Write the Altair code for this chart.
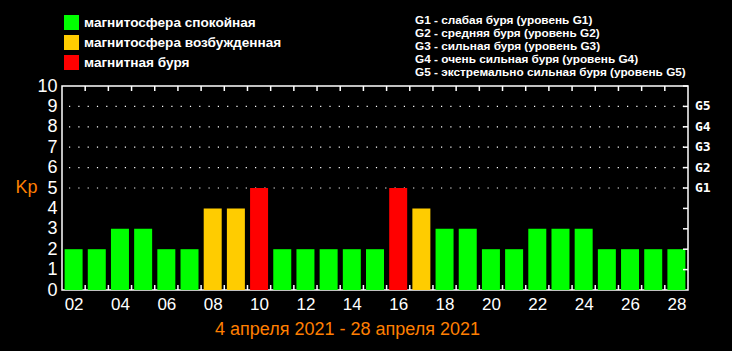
import altair as alt
import pandas as pd

days = list(range(2, 29))
kp = [2, 2, 3, 3, 2, 2, 4, 4, 5, 2, 2, 2, 2, 2, 5, 4, 3, 3, 2, 2, 3, 3, 3, 2, 2, 2, 2]
status_names = ["магнитосфера спокойная", "магнитосфера возбужденная", "магнитная буря"]
status_colors = ["#00ff00", "#ffcc00", "#ff0000"]
g_levels = [5, 6, 7, 8, 9]
g_labels = ["G1", "G2", "G3", "G4", "G5"]
g_descr = [
    "G1 - слабая буря (уровень G1)",
    "G2 - средняя буря (уровень G2)",
    "G3 - сильная буря (уровень G3)",
    "G4 - очень сильная буря (уровень G4)",
    "G5 - экстремально сильная буря (уровень G5)",
]
x_ticks = list(range(2, 29, 2))
y_ticks = list(range(0, 11))
date_title = "4 апреля 2021 - 28 апреля 2021"

W, H = 626, 204
ORANGE = "#ff7f00"


def status(v):
    if v <= 3:
        return status_names[0]
    if v == 4:
        return status_names[1]
    return status_names[2]


bars_df = pd.DataFrame({"day": days, "kp": kp, "status": [status(v) for v in kp]})
bound_df = pd.DataFrame({"day": [d + 0.5 for d in days[:-1]]})
level_df = pd.DataFrame({"kp": y_ticks[1:]})
g_df = pd.DataFrame({"kp": g_levels, "g": g_labels})

xscale = alt.Scale(domain=[days[0] - 0.5, days[-1] + 0.5], nice=False, zero=False, padding=0)
yscale = alt.Scale(domain=[0, 10], nice=False, padding=0)

x_axis = alt.Axis(
    values=x_ticks,
    labelExpr="datum.value < 10 ? '0' + datum.value : '' + datum.value",
    ticks=False, domain=False, grid=False, labelOverlap=False,
    labelColor="white", labelFontSize=17, labelFont="Liberation Sans", labelPadding=6,
    title=date_title, titleColor=ORANGE, titleFontSize=18, titleFont="Liberation Sans",
    titleFontWeight="normal", titleX=285, titleY=39, titleBaseline="middle", titleAlign="center",
)
y_axis = alt.Axis(
    values=y_ticks, ticks=False, domain=False, grid=False, labelOverlap=False,
    labelColor="white", labelFontSize=18, labelFont="Liberation Sans", labelPadding=5,
    title="Kp", titleAngle=0, titleColor=ORANGE, titleFontSize=18, titleFont="Liberation Sans",
    titleFontWeight="normal", titleX=-36, titleY=101, titleAlign="center", titleBaseline="middle",
)

X = alt.X("day:Q", scale=xscale, axis=x_axis)
Y = alt.Y("kp:Q", scale=yscale, axis=y_axis)

grid = alt.Chart(g_df).mark_rule(color="white", strokeWidth=1.2, strokeDash=[1.2, 8.1], strokeDashOffset=-7).encode(
    x=alt.value(0), x2=alt.value(W), y=Y
)

bars = alt.Chart(bars_df).mark_bar(width=18).encode(
    x=X,
    y=Y,
    color=alt.Color(
        "status:N",
        scale=alt.Scale(domain=status_names, range=status_colors),
        legend=alt.Legend(
            orient="none", legendX=2, legendY=-71, title=None,
            symbolType="square", symbolSize=225, symbolStrokeWidth=0, symbolOpacity=1,
            labelColor="white", labelFontSize=13.6, labelFont="Liberation Sans", labelFontWeight="bold",
            labelLimit=400, rowPadding=5, labelOffset=5, padding=0,
        ),
    ),
)

top_ticks = alt.Chart(bound_df).mark_rule(color="white", strokeWidth=1.5).encode(
    x=X, y=alt.value(0), y2=alt.value(5)
)
bottom_ticks = alt.Chart(bound_df).mark_rule(color="white", strokeWidth=1.5).encode(
    x=X, y=alt.value(H - 5), y2=alt.value(H)
)
right_ticks = alt.Chart(level_df).mark_rule(color="white", strokeWidth=1.5).encode(
    x=alt.value(W - 5), x2=alt.value(W), y=Y
)
g_text = alt.Chart(g_df).mark_text(
    color="white", font="DejaVu Sans Mono", fontWeight="bold", fontSize=13, align="left", baseline="middle"
).encode(x=alt.value(W + 7), y=Y, text="g:N")

descr = alt.Chart(pd.DataFrame({"n": [0]})).mark_text(
    text=g_descr, color="white", font="Liberation Sans", fontWeight="bold", fontSize=11.8,
    align="left", baseline="top", lineHeight=13,
).encode(x=alt.value(353), y=alt.value(-71))

chart = alt.layer(grid, bars, top_ticks, bottom_ticks, right_ticks, g_text, descr).properties(
    width=W, height=H, background="black",
    padding={"left": 62, "top": 86, "right": 44, "bottom": 61},
    autosize=alt.AutoSizeParams(type="none"),
).configure_view(stroke="white", strokeWidth=1.5)

chart.save("out.html", embed_options={"renderer": "svg", "actions": False})
